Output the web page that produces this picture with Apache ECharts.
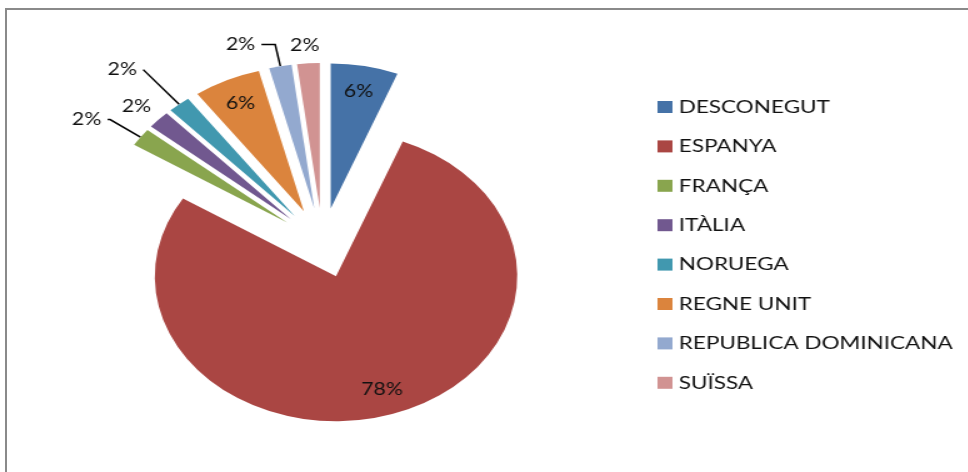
<!DOCTYPE html>
<html><head><meta charset="utf-8">
<script src="https://cdn.jsdelivr.net/npm/echarts@6/dist/echarts.min.js"></script>
<style>
html,body{margin:0;padding:0;background:#fff;width:968px;height:472px;overflow:hidden;}
#frame{position:absolute;left:5px;top:8px;width:963px;height:464px;border-top:2px solid #8a8a8a;border-left:2px solid #8a8a8a;}
#chart{position:absolute;left:0;top:0;width:774px;height:472px;transform:scaleX(1.25);transform-origin:0 0;}
</style></head><body>
<div id="frame"></div>
<div id="chart"></div>
<script>
// ---- data ----
const categories = ['DESCONEGUT','ESPANYA','FRANÇA','ITÀLIA','NORUEGA','REGNE UNIT','REPUBLICA DOMINICANA','SUÏSSA'];
const values = [6, 78, 2, 2, 2, 6, 2, 2];

// ---- styles ----
const colors = ['#4572A7','#AA4643','#89A54E','#71588F','#4198AF','#DB843D','#93A9CF','#D19392'];
const labelInside = [true, true, false, false, false, true, false, false];
// leader line settings for outside labels (by category index)
const outsideLine = {
  2: {show:true,  length:30, length2:2,  dist:5},
  3: {show:false, length:19, length2:-8, dist:0},
  4: {show:true,  length:45, length2:0,  dist:5},
  6: {show:true,  length:22, length2:11, dist:5},
  7: {show:false, length:18, length2:-10, dist:0}
};
const FONT = 'Lato';

const mainData = categories.map((n, i) => {
  const o = outsideLine[i] || {show:false, length:10, length2:0, dist:5};
  return {
    name: n, value: values[i], selected: true,
    itemStyle: {color: colors[i]},
    label: {show: !labelInside[i], distanceToLabelLine: o.dist},
    labelLine: {show: o.show, length: o.length, length2: o.length2}
  };
});
const labelData = categories.map((n, i) => ({
  name: n, value: values[i], selected: true,
  itemStyle: {color: 'rgba(0,0,0,0)'},
  label: {show: labelInside[i]}
}));

const chart = echarts.init(document.getElementById('chart'), null, {renderer:'canvas'});
chart.setOption({
  backgroundColor: 'transparent',
  animation: false,
  color: colors,
  legend: {
    orient: 'vertical', left: 521, top: 93,
    itemWidth: 12, itemHeight: 12, itemGap: 21.4, icon: 'rect',
    data: categories,
    textStyle: {fontFamily: FONT, fontSize: 18, color: '#111'},
    selectedMode: false
  },
  series: [
    {
      type: 'pie', center: [258, 243], radius: 145, startAngle: 90, clockwise: true,
      selectedMode: 'multiple', selectedOffset: 35, avoidLabelOverlap: false,
      percentPrecision: 0,
      emphasis: {disabled: true},
      select: {itemStyle: {}},
      itemStyle: {borderWidth: 0},
      label: {position: 'outside', formatter: '{d}%', fontFamily: FONT, fontSize: 17, color: '#111'},
      labelLine: {lineStyle: {color: '#000', width: 1.5}, smooth: false},
      data: mainData
    },
    {
      type: 'pie', center: [258, 243], radius: 232, startAngle: 90, clockwise: true,
      selectedMode: 'multiple', selectedOffset: 35, avoidLabelOverlap: false,
      percentPrecision: 0, silent: true,
      emphasis: {disabled: true},
      label: {position: 'inside', formatter: '{d}%', fontFamily: FONT, fontSize: 17, color: '#111'},
      labelLine: {show: false},
      data: labelData
    }
  ]
});
</script>
</body></html>
